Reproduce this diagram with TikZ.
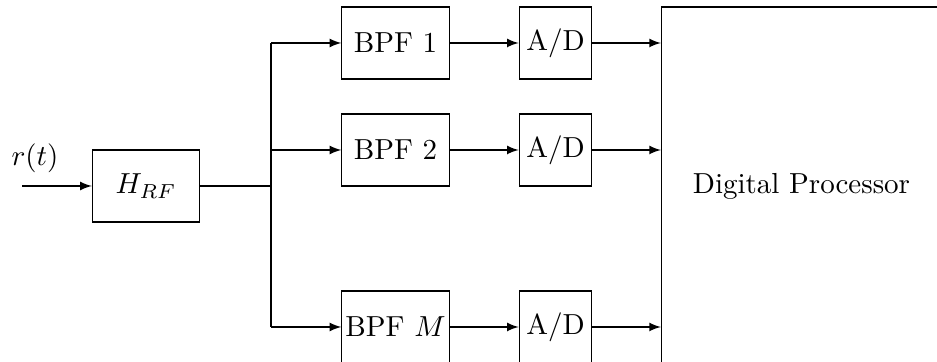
\documentclass[tikz,border=0pt]{standalone}
\usepackage{amsmath}
\usetikzlibrary{positioning}

\tikzset{
  blockbox/.style={draw,thin,inner sep=1pt,minimum width=37pt,minimum height=24.8pt},
  adbox/.style={draw,thin,inner sep=1pt,minimum width=25pt,minimum height=24.8pt}
}

\begin{document}
\begin{tikzpicture}[x=0.345pt,y=-0.345pt,>=latex]
      \useasboundingbox (0,0) rectangle (937,362);
      \clip (0,0) rectangle (937,362);

      \coordinate (in) at (22,186);
      \node at (35,158) {$r(t)$};
      \node [blockbox] (hrf) at (146,186) {$H_{RF}$};

      \coordinate (split) at (271,186);
      \coordinate (bustop) at (271,43);
      \coordinate (busmid) at (271,150);
      \coordinate (busbot) at (271,327);

      \node [blockbox] (bpf1) at (395.5,43) {BPF 1};
      \node [blockbox] (bpf2) at (395.5,150) {BPF 2};
      \node [blockbox] (bpfm) at (395.5,327) {BPF $M$};

      \node [adbox] (ad1) at (555.5,43) {A/D};
      \node [adbox] (ad2) at (555.5,150) {A/D};
      \node [adbox] (adm) at (555.5,327) {A/D};

      \node [draw,thin,minimum width=96.6pt,minimum height=123.5pt] (dsp) at (801.5,186) {Digital Processor};

      \draw [->] (in) to (hrf);
      \draw (hrf) to (split);
      \draw (bustop) to (busbot);

      \draw [->] (bustop) to (bpf1);
      \draw [->] (busmid) to (bpf2);
      \draw [->] (busbot) to (bpfm);

      \draw [->] (bpf1) to (ad1);
      \draw [->] (bpf2) to (ad2);
      \draw [->] (bpfm) to (adm);

      \draw [->] (ad1) to (ad1 -| dsp.west);
      \draw [->] (ad2) to (ad2 -| dsp.west);
      \draw [->] (adm) to (adm -| dsp.west);

\end{tikzpicture}
\end{document}
